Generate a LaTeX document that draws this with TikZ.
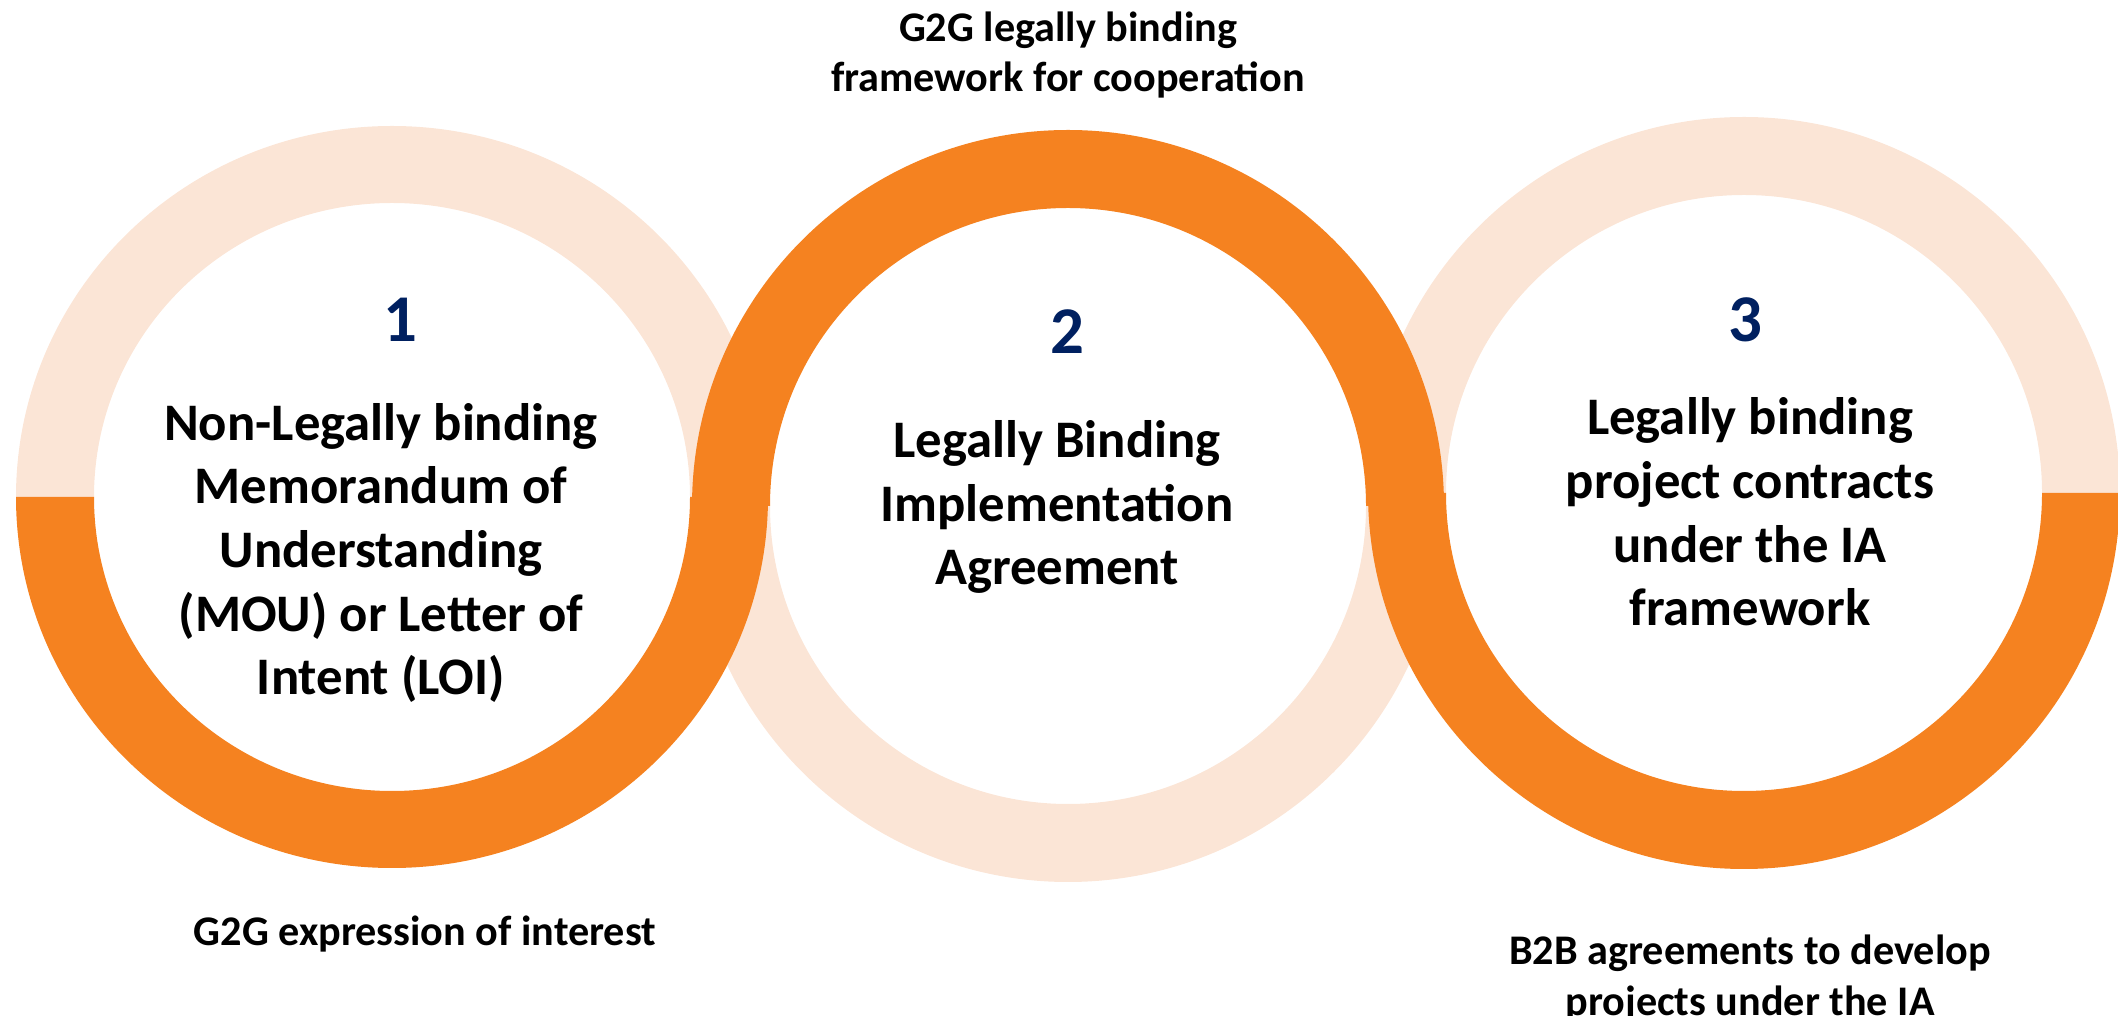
\documentclass[tikz,border=0pt]{standalone}
\usepackage{fontspec}
\setmainfont{Carlito}

\definecolor{ringorange}{HTML}{F58220}
\definecolor{ringlight}{HTML}{FBE5D6}
\definecolor{stepnavy}{HTML}{002060}

\begin{document}
\begin{tikzpicture}[x=0.01cm, y=0.01cm,
    lighthalf/.style={fill=ringlight},
    orangehalf/.style={fill=ringorange},
    stepnum/.style={text=stepnavy, font=\fontsize{19}{22}\selectfont\bfseries},
    steptext/.style={align=center, font=\fontsize{15}{18.1}\selectfont\bfseries},
    sidetext/.style={align=center, font=\fontsize{12}{14.4}\selectfont\bfseries}]
      \clip (0, 0) rectangle (2118, 1015);
      % Ring centres
      \coordinate (c1) at (392, 518);
      \coordinate (c2) at (1068, 509);
      \coordinate (c3) at (1744, 522);
      % Draw the light halves
      \fill[lighthalf] (c1) ++(376, 0) arc[start angle=0, end angle=180, x radius=376, y radius=371] -- ++(78, 0) arc[start angle=180, end angle=0, x radius=298, y radius=294] -- cycle;
      \fill[lighthalf] (c2) ++(376, 0) arc[start angle=0, end angle=-180, radius=376] -- ++(78, 0) arc[start angle=-180, end angle=0, radius=298] -- cycle;
      \fill[lighthalf] (c3) ++(376, 0) arc[start angle=0, end angle=180, radius=376] -- ++(78, 0) arc[start angle=180, end angle=0, radius=298] -- cycle;
      % Draw the orange halves on top
      \fill[orangehalf] (c1) ++(376, 0) arc[start angle=0, end angle=-180, x radius=376, y radius=371] -- ++(78, 0) arc[start angle=-180, end angle=0, x radius=298, y radius=294] -- cycle;
      \fill[orangehalf] (c2) ++(376, 0) arc[start angle=0, end angle=180, radius=376] -- ++(78, 0) arc[start angle=180, end angle=0, radius=298] -- cycle;
      \fill[orangehalf] (c3) ++(376, 0) arc[start angle=0, end angle=-180, radius=376] -- ++(78, 0) arc[start angle=-180, end angle=0, radius=298] -- cycle;
      % Draw the step numbers
      \node[stepnum] (n1) at (400, 695) {1};
      \node[stepnum] (n2) at (1067, 683) {2};
      \node[stepnum] (n3) at (1745, 695) {3};
      % Draw the step texts
      \node[steptext] (t1) at (381, 462) {Non-Legally binding\\Memorandum of\\Understanding\\(MOU) or Letter of\\Intent (LOI)};
      \node[steptext] (t2) at (1057, 508) {Legally Binding\\Implementation\\Agreement};
      \node[steptext] (t3) at (1750, 503) {Legally binding\\project contracts\\under the IA\\framework};
      % Draw the side notes
      \node[sidetext] (s2) at (1068, 960) {G2G legally binding\\framework for cooperation};
      \node[sidetext, anchor=base] (s1) at (425, 69) {G2G expression of interest};
      \node[sidetext] (s3) at (1750, 36) {B2B agreements to develop\\projects under the IA};
    \end{tikzpicture}
\end{document}
